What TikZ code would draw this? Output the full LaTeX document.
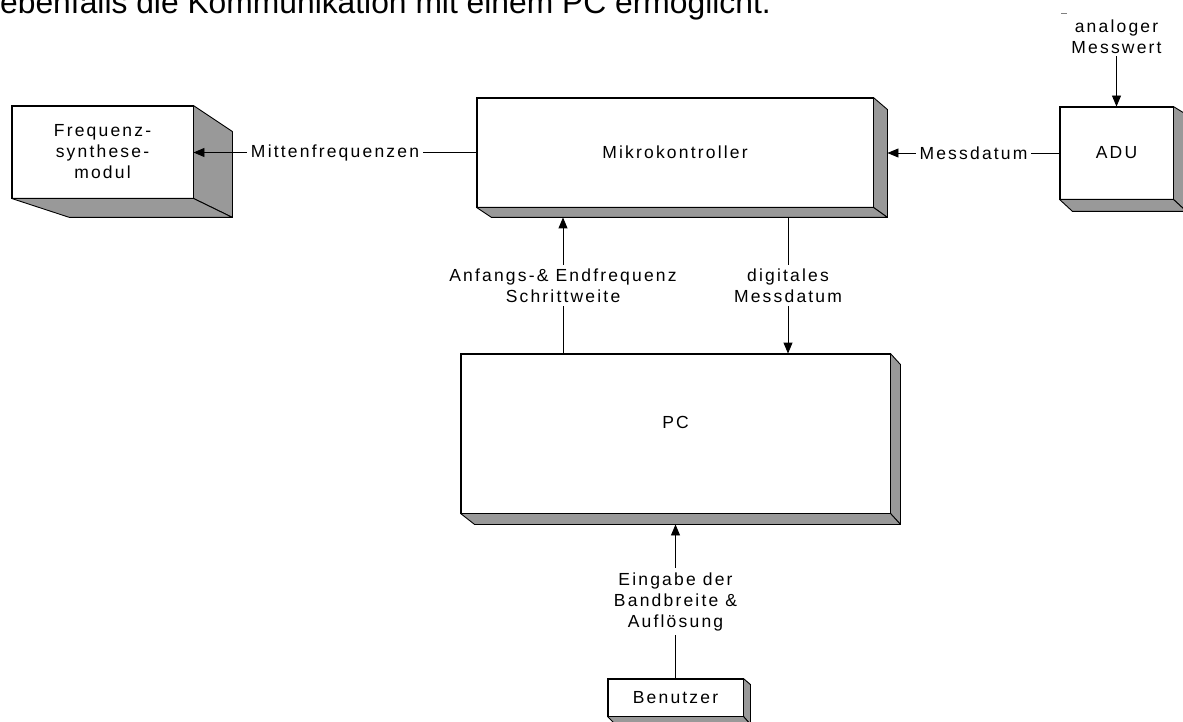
\documentclass[tikz,border=0pt]{standalone}
\usepackage{fontspec}
\setmainfont{Liberation Sans}
\newfontfamily\spacedsans[LetterSpace=12.5]{Liberation Sans}
\usetikzlibrary{arrows.meta,calc}
\definecolor{shade}{RGB}{153,153,153}

% side and bottom faces of a 3-D box drawn behind a front node
\newcommand\extrude[4]{%
  \coordinate (#1-tr) at ($(#1.north east)+#2$);
  \coordinate (#1-br) at ($(#1.south east)+#3$);
  \coordinate (#1-bl) at ($(#1.south west)+#4$);
  \draw[side] (#1.north east) -- (#1-tr) -- (#1-br) -- (#1.south east) -- cycle;
  \draw[side] (#1.south west) -- (#1.south east) -- (#1-br) -- (#1-bl) -- cycle;
  \draw[edge] (#1.north west) rectangle (#1.south east);
}

\begin{document}
\begin{tikzpicture}[x=1pt,y=-1pt,
  txt/.style={font=\spacedsans\fontsize{17.5}{21}\selectfont, align=center},
  front/.style={txt, draw, fill=white, line width=0.9pt, inner sep=0pt},
  side/.style={draw, fill=shade, line width=0.9pt, line join=round},
  edge/.style={line width=0.9pt},
  conn/.style={line width=0.9pt},
  arr/.style={conn, -{Triangle[length=11pt,width=9pt]}},
  lab/.style={txt, fill=white, inner xsep=4pt, inner ysep=4pt},
]
\useasboundingbox (0,0) rectangle (1183,722);
\clip (0,0) rectangle (1183,722);

% running text of the page above the figure
\node[anchor=base west, inner sep=0pt, font=\fontsize{31.8}{36}\selectfont] (toptext) at (0,14)
  {ebenfalls die Kommunikation mit einem PC ermöglicht.};

% boxes
\node[front, minimum width=181, minimum height=92] (fs) at (102.5,152) {Frequenz-\\synthese-\\modul};
\extrude{fs}{(39,26)}{(39,19)}{(58,19)}

\node[front, minimum width=396, minimum height=109] (mk) at (675,152.5) {Mikrokontroller};
\extrude{mk}{(14,12)}{(14,10)}{(15,10)}

\node[front, minimum width=113, minimum height=92] (adu) at (1116.5,153) {ADU};
\extrude{adu}{(13,8)}{(13,12)}{(13,12)}

\node[front, minimum width=429, minimum height=159] (pc) at (675.5,433.5) {\raisebox{5.5pt}[0pt][0pt]{PC}};
\extrude{pc}{(10,11)}{(10,11)}{(14,11)}

\node[front, minimum width=135, minimum height=37] (bn) at (675.5,697.5) {Benutzer};
\extrude{bn}{(7,6)}{(7,8)}{(8,8)}

% analog input of the converter
\node[txt, inner sep=2pt] (an) at (1116.5,37) {analoger\\Messwert};
\draw[gray, line width=0.8pt] (1061,13) -- (1067,13);
\draw[arr] (an.south -| adu.north) -- (adu.north);

% connections
\draw[arr] (mk.west) -- node[lab] {Mittenfrequenzen} (mk.west -| fs.east);
\draw[arr] (adu.west) -- node[lab] {Messdatum} (adu.west -| mk-br);

\coordinate (anf) at ([xshift=-112.5pt]pc.north);
\draw[arr] (anf) -- node[lab] {Anfangs-\& Endfrequenz\\Schrittweite} (anf |- mk-bl);

\coordinate (dig) at ([xshift=113pt]mk.south);
\draw[arr] (dig |- mk-bl) -- node[lab] {digitales\\Messdatum} (dig |- pc.north);

\draw[arr] (bn.north) -- node[lab] {Eingabe der\\Bandbreite \&\\Auflösung} (bn.north |- pc-bl);
\end{tikzpicture}
\end{document}
